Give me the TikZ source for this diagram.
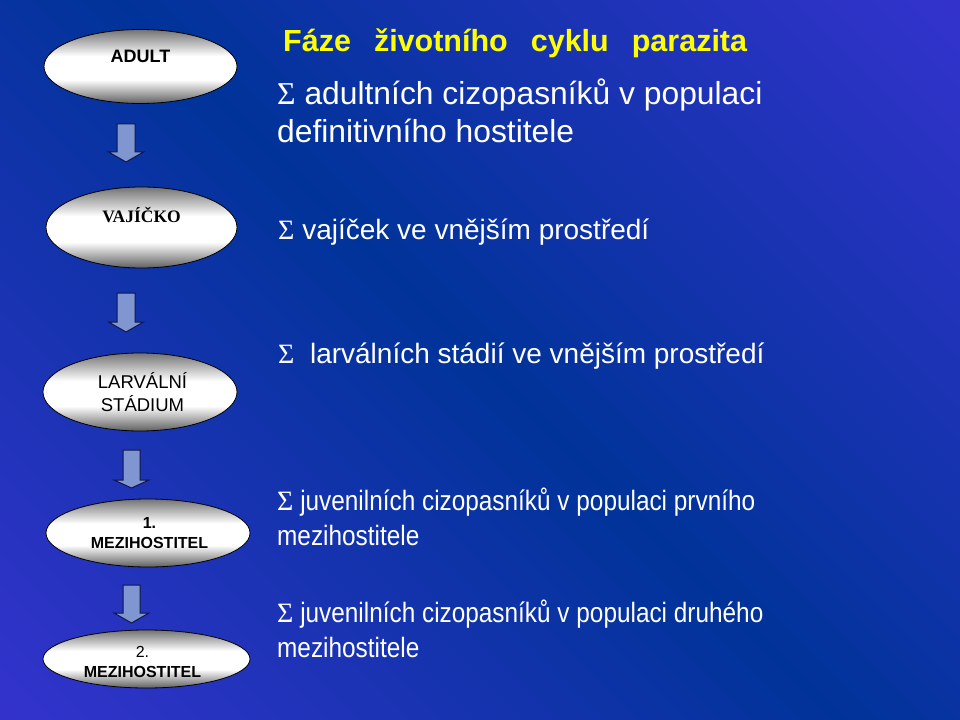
\documentclass[tikz,border=0pt]{standalone}
\usepackage{fontspec}
\setmainfont{Liberation Sans}
\newfontfamily\sigmafont{Liberation Serif}
\newfontfamily\narrowfont{Liberation Sans}[FakeStretch=0.87]
\usetikzlibrary{shapes.geometric}
\definecolor{bgA}{RGB}{51,51,204}
\definecolor{bgB}{RGB}{0,51,153}
\definecolor{eTop}{RGB}{115,115,115}
\definecolor{eBot}{RGB}{95,95,95}
\definecolor{arrowfill}{RGB}{128,150,208}
\definecolor{arrowline}{RGB}{15,22,70}
\definecolor{titleyellow}{RGB}{255,255,0}
\pgfdeclareverticalshading{bgshade}{100bp}{color(0bp)=(bgA); color(15bp)=(bgA); color(50bp)=(bgB); color(85bp)=(bgA); color(100bp)=(bgA)}
\pgfdeclareverticalshading{ellshade}{100bp}{color(0bp)=(eBot); color(25bp)=(eBot); color(41bp)=(white); color(57bp)=(white); color(75bp)=(eTop); color(100bp)=(eTop)}
\tikzset{
  stage/.style={ellipse, draw=black, line width=0.8bp, shade, shading=ellshade, inner sep=0pt},
  lbl/.style={inner sep=0pt, text=black, align=center},
  rtext/.style={anchor=base west, inner sep=0pt, text=white, align=left},
  arrowst/.style={draw=arrowline, fill=arrowfill, line width=1bp, line join=miter},
  pics/downblock/.style n args={3}{code={%
    \draw[arrowst] (-#1,0) -- (#1,0) -- (#1,#2) -- (17.5,#2) -- (0,#3) -- (-17.5,#2) -- (-#1,#2) -- cycle;}}
}
\newcommand\titlegap{\hspace{23bp}}
\begin{document}
\begin{tikzpicture}[x=1bp,y=-1bp]
\useasboundingbox (0,0) rectangle (960,720);
\shade[shading=bgshade, shading angle=-45] (0,0) rectangle (960,720);

% stages
\node[stage, minimum width=193bp, minimum height=74bp,
  label={[lbl, name=adultL, yshift=10bp, font=\bfseries\fontsize{18bp}{21bp}\selectfont]center:ADULT}]
  (adult) at (140.5,66.5) {};
\node[stage, minimum width=191bp, minimum height=81bp,
  label={[lbl, name=vajL, yshift=12bp, font=\sigmafont\bfseries\fontsize{17.5bp}{21bp}\selectfont]center:VAJÍČKO}]
  (vaj) at (141.5,227.5) {};
\node[stage, minimum width=194bp, minimum height=78bp,
  label={[lbl, name=larvL, xshift=2.5bp, font=\fontsize{18.5bp}{23bp}\selectfont]center:LARVÁLNÍ\\STÁDIUM}]
  (larv) at (140,392) {};
\node[stage, minimum width=204bp, minimum height=68bp,
  label={[lbl, name=mezaL, xshift=1.5bp, font=\fontsize{16bp}{20bp}\selectfont]center:\textbf{1.}\\\textbf{MEZIHOSTITEL}}]
  (meza) at (148,533) {};
\node[stage, minimum width=207bp, minimum height=58bp,
  label={[lbl, name=mezbL, xshift=-4bp, yshift=-3bp, font=\fontsize{16bp}{20bp}\selectfont]center:2.\\\textbf{MEZIHOSTITEL}}]
  (mezb) at (146.5,659) {};

% block arrows
\pic (arrA) at (126,124) {downblock={9}{28}{38}};
\pic (arrB) at (126,293) {downblock={9}{29}{39}};
\pic (arrC) at (131.5,450) {downblock={8.5}{30}{38}};
\pic (arrD) at (131.5,585) {downblock={8.5}{28}{38}};

% texts
\node[rtext, text=titleyellow, font=\bfseries\fontsize{30.5bp}{36bp}\selectfont] (title) at (283,52)
  {Fáze\titlegap životního\titlegap cyklu\titlegap parazita};
\node[rtext, font=\fontsize{31.8bp}{38bp}\selectfont] (tadult) at (277,143)
  {{\sigmafont Σ} adultních cizopasníků v populaci\\definitivního hostitele};
\node[rtext, font=\fontsize{28bp}{34bp}\selectfont] (tvaj) at (278,239)
  {{\sigmafont Σ} vajíček ve vnějším prostředí};
\node[rtext, font=\fontsize{28bp}{34bp}\selectfont] (tlarv) at (278,363)
  {{\sigmafont Σ}~~larválních stádií ve vnějším prostředí};
\node[rtext, font=\narrowfont\fontsize{28bp}{35bp}\selectfont] (tmeza) at (277,545)
  {{\sigmafont Σ} juvenilních cizopasníků v populaci prvního\\mezihostitele};
\node[rtext, font=\narrowfont\fontsize{28bp}{35bp}\selectfont] (tmezb) at (277,657)
  {{\sigmafont Σ} juvenilních cizopasníků v populaci druhého\\mezihostitele};
\end{tikzpicture}
\end{document}
